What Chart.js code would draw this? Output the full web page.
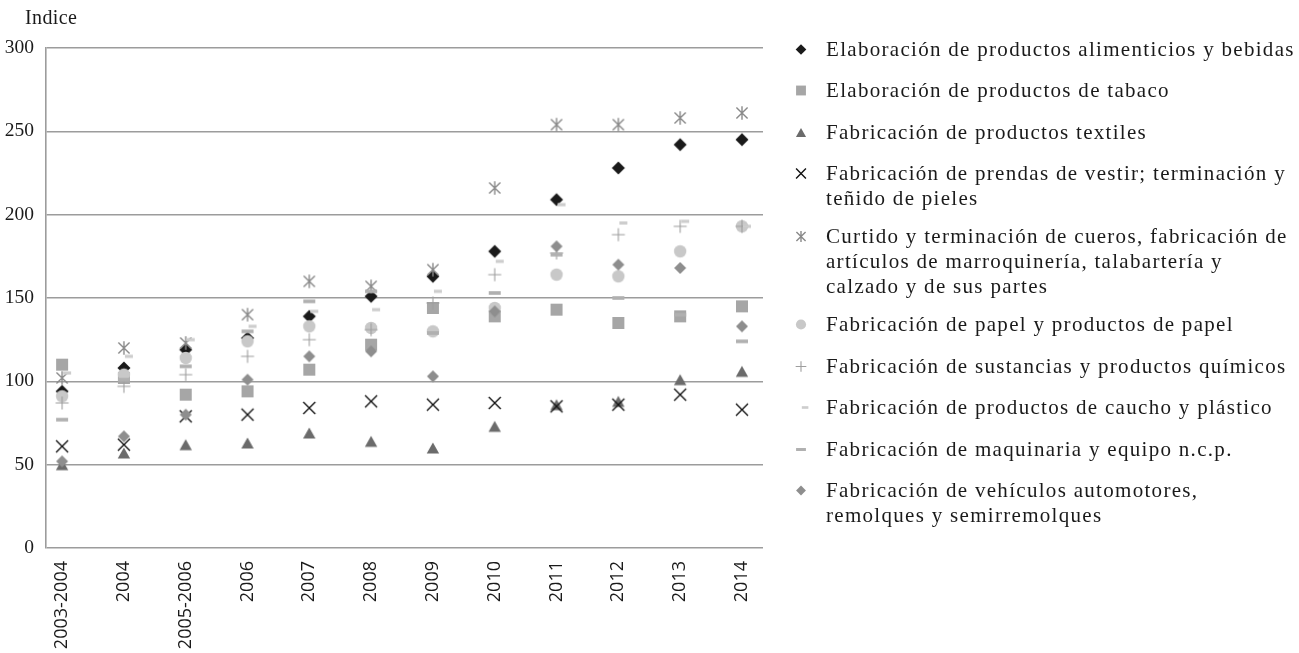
<!DOCTYPE html>
<html>
<head>
<meta charset="utf-8">
<script src="https://cdn.jsdelivr.net/npm/chart.js@4/dist/chart.umd.min.js"></script>
<style>
html,body{margin:0;padding:0;background:#fff;width:1299px;height:653px;overflow:hidden}
#wrap{position:absolute;left:0;top:0;width:780px;height:653px}
#legend{position:absolute;left:790px;top:36.5px;width:509px;font-family:"Liberation Serif",serif;font-size:21px;letter-spacing:1.3px;color:#1a1a1a}
.item{display:flex;align-items:flex-start;line-height:25px;margin-bottom:16.5px;white-space:pre}
.item.multi{margin-bottom:13px}
.mk{width:22px;height:25px;flex:0 0 22px;margin-right:14px}
</style>
</head>
<body>
<div id="wrap"><canvas id="c" width="780" height="653"></canvas></div>
<div id="legend"></div>
<script>
// ---- data ----
const categories = ['2003-2004','2004','2005-2006','2006','2007','2008','2009','2010','2011','2012','2013','2014'];
const yTicks = [0, 50, 100, 150, 200, 250, 300];
const yAxisTitle = 'Indice';

const alimentos  = [94, 108, 119, 126, 139, 151, 163, 178, 209, 228, 242, 245];
const tabaco     = [110, 102, 92, 94, 107, 122, 144, 139, 143, 135, 139, 145];
const textiles   = [50, 57, 62, 63, 69, 64, 60, 73, 86, 88, 101, 106];
const prendas    = [61, 62, 79, 80, 84, 88, 86, 87, 85, 86, 92, 83];
const cueros     = [102, 120, 123, 140, 160, 157, 167, 216, 254, 254, 258, 261];
const papel      = [91, 104, 114, 124, 133, 132, 130, 144, 164, 163, 178, 193];
const quimicos   = [87, 97, 104, 115, 125, 131, 147, 164, 177, 188, 193, 193];
const caucho     = [105, 115, 125, 133, 142, 143, 154, 172, 206, 195, 196, 193];
const maquinaria = [77, 101, 109, 130, 148, 154, 129, 153, 176, 150, 140, 124];
const vehiculos  = [52, 67, 80, 101, 115, 118, 103, 142, 181, 170, 168, 133];

const seriesNames = [
  'Elaboración de productos alimenticios y bebidas',
  'Elaboración de productos de tabaco',
  'Fabricación de productos textiles',
  'Fabricación de prendas de vestir; terminación y\nteñido de pieles',
  'Curtido y terminación de cueros, fabricación de\nartículos de marroquinería, talabartería y\ncalzado y de sus partes',
  'Fabricación de papel y productos de papel',
  'Fabricación de sustancias y productos químicos',
  'Fabricación de productos de caucho y plástico',
  'Fabricación de maquinaria y equipo n.c.p.',
  'Fabricación de vehículos automotores,\nremolques y semirremolques'
];
const seriesValues = [alimentos, tabaco, textiles, prendas, cueros, papel, quimicos, caucho, maquinaria, vehiculos];
const seriesMarkers = ['diamond','square','triangle','x','asterisk','circle','plus','shortdash','longdash','diamondS'];
const seriesColors = ['#1a1a1a','#a6a6a6','#6b6b6b','#111111','#8a8a8a','#c8c8c8','#9e9e9e','#cdcdcd','#b0b0b0','#8e8e8e'];

// ---- marker glyphs ----
function drawMarker(ctx, kind, c, k, color) {
  ctx.fillStyle = color; ctx.strokeStyle = color;
  ctx.beginPath();
  switch (kind) {
    case 'diamond': case 'diamondS': {
      const r = (kind === 'diamond' ? 6.5 : 6) * k;
      ctx.moveTo(c, c - r); ctx.lineTo(c + r, c); ctx.lineTo(c, c + r); ctx.lineTo(c - r, c); ctx.closePath(); ctx.fill(); break;
    }
    case 'square': { const h = 6 * k; ctx.fillRect(c - h, c - h, 2 * h, 2 * h); break; }
    case 'triangle': {
      const w = 6.2 * k, h = 5.6 * k;
      ctx.moveTo(c, c - h); ctx.lineTo(c + w, c + h); ctx.lineTo(c - w, c + h); ctx.closePath(); ctx.fill(); break;
    }
    case 'x': {
      const a = 6 * k; ctx.lineWidth = 1.4;
      ctx.moveTo(c - a, c - a); ctx.lineTo(c + a, c + a); ctx.moveTo(c + a, c - a); ctx.lineTo(c - a, c + a); ctx.stroke(); break;
    }
    case 'asterisk': {
      const a = 5.6 * k, v = 6.8 * k; ctx.lineWidth = 1.4;
      ctx.moveTo(c - a, c - a); ctx.lineTo(c + a, c + a); ctx.moveTo(c + a, c - a); ctx.lineTo(c - a, c + a);
      ctx.moveTo(c, c - v); ctx.lineTo(c, c + v); ctx.stroke(); break;
    }
    case 'circle': { ctx.arc(c, c, 6.2 * k, 0, Math.PI * 2); ctx.fill(); break; }
    case 'plus': {
      const a = 6.5 * k; ctx.lineWidth = 1.1;
      ctx.moveTo(c - a, c); ctx.lineTo(c + a, c); ctx.moveTo(c, c - a); ctx.lineTo(c, c + a); ctx.stroke(); break;
    }
    case 'shortdash': { ctx.fillRect(c + 1 * k, c - 1.6 * k, 8 * k, 3.2 * k); break; }
    case 'longdash': { ctx.fillRect(c - 6 * k, c - 1.8 * k, 12 * k, 3.6 * k); break; }
  }
}
function makeMarker(kind, color, k, size) {
  const cv = document.createElement('canvas');
  cv.width = size; cv.height = size;
  drawMarker(cv.getContext('2d'), kind, size / 2, k, color);
  return cv;
}

// ---- legend (HTML) ----
const legendEl = document.getElementById('legend');
seriesNames.forEach((name, i) => {
  const item = document.createElement('div');
  item.className = 'item' + (name.includes('\n') ? ' multi' : '');
  const mk = document.createElement('canvas');
  mk.className = 'mk'; mk.width = 22; mk.height = 25;
  const mctx = mk.getContext('2d');
  mctx.save(); mctx.translate(0, 1.5);
  drawMarker(mctx, seriesMarkers[i], 11, 0.82, seriesColors[i]);
  mctx.restore();
  const tx = document.createElement('span');
  tx.textContent = name;
  item.appendChild(mk); item.appendChild(tx);
  legendEl.appendChild(item);
});

// ---- chart ----
const datasets = seriesNames.map((name, i) => ({
  label: name.replace(/\n/g, ' '),
  data: seriesValues[i].map((v, j) => ({ x: j, y: v })),
  pointStyle: makeMarker(seriesMarkers[i], seriesColors[i], 1, 20),
  pointRadius: 6,
  showLine: false,
  order: seriesNames.length - i
}));

const yTitlePlugin = {
  id: 'ytitle',
  afterDraw(chart) {
    const { ctx, chartArea } = chart;
    ctx.save();
    ctx.font = '20px "Liberation Serif"';
    ctx.fillStyle = '#1a1a1a';
    ctx.textAlign = 'left';
    ctx.textBaseline = 'middle';
    try { ctx.letterSpacing = '0.4px'; } catch (e) {}
    ctx.fillText(yAxisTitle, chartArea.left - 21, chartArea.top - 29);
    ctx.restore();
  }
};

new Chart(document.getElementById('c'), {
  type: 'scatter',
  data: { datasets },
  options: {
    responsive: false,
    animation: false,
    events: [],
    layout: { padding: { top: 48, right: 17, left: 0, bottom: 0 } },
    plugins: { legend: { display: false }, tooltip: { enabled: false }, title: { display: false } },
    scales: {
      x: {
        type: 'linear',
        min: -0.26, max: 11.34,
        afterBuildTicks(scale) { scale.ticks = categories.map((_, i) => ({ value: i })); },
        afterFit(scale) { scale.height = 105; },
        grid: { display: false, drawTicks: false },
        border: { display: false },
        ticks: {
          autoSkip: false, minRotation: 90, maxRotation: 90, padding: 13,
          color: '#1a1a1a', font: { family: '"Open Sans"', size: 18 },
          callback: (v) => categories[v] ?? ''
        }
      },
      y: {
        min: 0, max: 300,
        afterBuildTicks(scale) { scale.ticks = yTicks.map(v => ({ value: v })); },
        afterFit(scale) { scale.width = 46; },
        grid: { color: '#9c9c9c', lineWidth: 1.6, drawTicks: false },
        border: { display: true, color: '#9c9c9c', width: 1.6 },
        ticks: { padding: 12, color: '#1a1a1a', font: { family: '"Liberation Serif"', size: 19.5 } }
      }
    }
  },
  plugins: [yTitlePlugin]
});
</script>
</body>
</html>
